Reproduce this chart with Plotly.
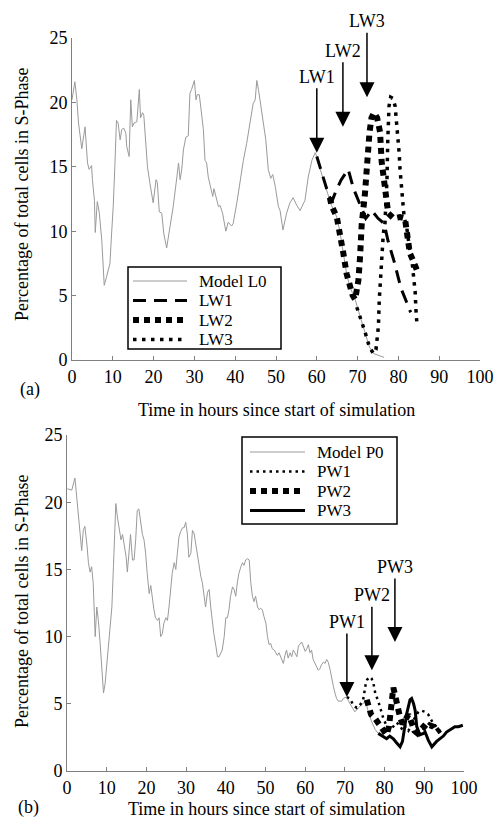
import plotly.graph_objects as go

# ---------------- data ----------------
X_TICKS = [0, 10, 20, 30, 40, 50, 60, 70, 80, 90, 100]
Y_TICKS = [0, 5, 10, 15, 20, 25]

# panel (a)
L0_t = [0, 0.7, 1.2, 1.6, 2.4, 3.2, 3.8, 4.2, 4.8, 5.0, 5.5, 5.7, 6.2, 6.7, 7.3, 7.9, 8.5, 9.3, 9.7, 10.1,
        10.5, 10.9, 11.3, 11.8, 12.2, 12.7, 13.2, 13.4, 14.0, 14.4, 14.8, 15.2, 15.9, 16.1, 16.5, 16.8, 17.3, 17.6, 18.1, 18.5,
        19.1, 19.9, 20.6, 20.9, 21.4, 22.0, 22.5, 23.2, 24.0, 24.8, 25.7, 26.1, 26.5, 26.9, 27.3, 27.9, 28.5, 28.9, 29.3, 30.0,
        30.4, 30.7, 31.2, 31.8, 32.2, 32.6, 33.0, 33.4, 34.0, 34.5, 34.8, 35.5, 35.9, 36.3, 36.9, 37.7, 38.3, 39.1, 39.5, 40.4,
        41.2, 42.0, 42.8, 43.6, 44.4, 44.9, 45.3, 45.7, 46.5, 47.1, 47.5, 48.1, 48.7, 49.2, 49.8, 50.6, 51.0, 51.7, 52.6, 53.4,
        54.2, 55.1, 55.9, 57.1, 57.9, 58.8, 59.6, 60.0, 60.3, 61.6, 62.4, 63.6, 64.9, 65.7, 66.5, 67.3, 68.1, 69.4, 70.6, 71.8,
        72.9, 73.9, 75.5, 76.5]
L0_y = [20.2, 21.6, 20.2, 18.4, 16.4, 18.1, 15.3, 14.8, 15.1, 14.0, 12.4, 9.9, 12.3, 11.4, 9.3, 5.8, 6.5, 7.5, 9.8, 11.9,
        15.0, 18.6, 18.4, 17.1, 17.9, 18.0, 17.6, 16.6, 15.8, 20.2, 18.1, 18.4, 18.5, 19.2, 21.0, 18.8, 19.2, 19.0, 17.1, 15.0,
        13.7, 12.2, 14.0, 13.8, 11.5, 11.4, 9.8, 8.7, 10.3, 11.9, 14.2, 15.3, 14.0, 14.8, 16.3, 17.3, 17.4, 20.7, 21.0, 21.7,
        20.2, 20.6, 20.6, 18.9, 17.9, 15.5, 15.3, 14.2, 13.5, 12.7, 13.3, 12.4, 11.9, 12.0, 11.4, 10.0, 10.7, 10.4, 10.6, 12.2,
        14.0, 15.5, 16.8, 18.2, 19.9, 20.2, 21.7, 21.0, 19.2, 17.6, 17.1, 14.8, 14.1, 14.4, 13.5, 11.9, 11.6, 10.1, 11.4, 12.2,
        12.6, 12.0, 11.6, 12.4, 14.2, 15.5, 16.1, 15.8, 15.4, 14.0, 13.2, 12.0, 11.1, 9.9, 8.3, 6.7, 5.7, 4.7, 3.4, 2.2,
        1.0, 0.5, 0.3, 0.2]

LW1_t = [60.0, 61.5, 63.0, 63.8, 64.8, 66.0, 67.7, 69.0, 70.5, 72.0, 73.5, 75.0, 76.5, 77.5, 79.0, 80.6, 82.0, 83.0]
LW1_y = [15.8, 14.2, 12.7, 12.4, 13.2, 14.0, 14.8, 13.3, 12.2, 11.0, 11.6, 11.0, 10.6, 9.2, 7.6, 5.6, 4.5, 3.7]

LW2_t = [63.2, 63.6, 64.9, 65.7, 66.5, 67.3, 68.1, 68.8, 69.4, 70.2, 70.6, 71.0, 71.8, 72.2, 72.9, 73.4, 74.0, 74.8,
         75.5, 75.9, 76.5, 77.0, 77.5, 78.8, 80.4, 81.6, 82.0, 82.8, 83.5, 84.5]
LW2_y = [12.6, 12.0, 11.1, 9.9, 8.3, 6.7, 5.7, 5.0, 4.7, 6.2, 8.0, 10.5, 12.9, 15.3, 17.6, 18.8, 19.2, 18.8,
         17.7, 15.4, 13.5, 12.2, 11.4, 11.0, 11.1, 11.0, 9.8, 8.3, 7.8, 7.0]

LW3_t = [69.8, 70.6, 71.8, 72.9, 73.9, 74.5, 74.8, 75.1, 75.3, 75.5, 75.6, 75.9, 76.1, 76.3, 76.7, 77.0, 77.2, 77.4,
         77.5, 77.7, 78.1, 78.7, 79.2, 79.6, 80.0, 80.2, 80.4, 80.8, 81.0, 81.4, 82.0, 82.4, 82.8, 83.3, 83.7, 84.1,
         84.3, 84.5]
LW3_y = [4.1, 3.4, 2.2, 1.0, 0.5, 0.8, 1.7, 2.6, 4.6, 5.7, 6.7, 7.8, 8.8, 9.8, 10.6, 12.2, 14.0, 17.1,
         18.4, 19.7, 20.4, 20.3, 19.7, 18.4, 17.3, 16.0, 14.8, 13.5, 12.4, 11.1, 10.4, 9.3, 8.5, 7.8, 6.7, 5.3,
         3.9, 3.0]

# arrow markers (a): label, time, height of arrow tip
A_LABELS = ["LW1", "LW2", "LW3"]
A_TIMES = [60.0, 66.4, 72.3]
A_TIPS = [16.1, 18.1, 20.4]

# panel (b)
P0_t = [0.1, 1.2, 2.0, 2.4, 2.9, 3.3, 3.7, 4.1, 4.5, 5.0, 5.4, 5.8, 6.2, 6.6, 7.1, 7.5, 7.9, 8.3, 8.7, 9.2,
        9.6, 10.0, 10.4, 10.8, 11.3, 11.7, 12.1, 12.3, 12.7, 13.2, 13.6, 14.0, 14.4, 14.9, 15.2, 15.6, 16.0, 16.5, 16.9, 17.3,
        17.7, 18.1, 18.6, 19.0, 19.4, 19.8, 20.2, 20.7, 21.1, 21.5, 21.9, 22.3, 22.8, 23.2, 23.6, 24.0, 24.4, 24.9, 25.3, 25.7,
        26.1, 26.5, 27.0, 27.4, 27.8, 28.2, 28.6, 29.1, 29.5, 29.9, 30.3, 30.7, 31.2, 31.6, 32.0, 32.4, 32.8, 33.3, 33.7, 34.1,
        34.5, 34.9, 35.4, 35.8, 36.2, 36.6, 37.0, 37.5, 37.9, 38.3, 38.7, 39.1, 39.6, 40.0, 40.4, 40.8, 41.2, 41.7, 42.1, 42.5,
        42.9, 43.3, 43.8, 44.2, 44.6, 45.0, 45.4, 45.9, 46.3, 46.7, 47.1, 47.5, 48.0, 48.4, 48.8, 49.2, 49.6, 50.1, 50.5, 50.9,
        51.3, 51.7, 52.2, 52.6, 53.0, 53.4, 54.5, 54.9, 55.3, 55.7, 56.2, 56.6, 57.0, 57.4, 57.9, 58.3, 58.7, 59.1, 59.5, 60.0,
        60.4, 60.8, 61.2, 61.6, 62.0, 62.5, 62.9, 63.3, 63.7, 64.1, 64.6, 65.0, 65.4, 65.8, 66.3, 66.7, 67.1, 67.5, 67.9, 68.3,
        69.2, 69.6, 70.4, 71.3, 72.5, 73.4, 74.6, 75.2, 75.9, 76.7, 77.6, 78.4]
P0_y = [21.0, 20.9, 21.8, 20.4, 18.7, 17.7, 16.4, 17.9, 18.2, 16.9, 15.5, 14.8, 15.2, 14.0, 10.0, 12.2, 11.2, 9.7, 7.8, 5.8,
        6.5, 7.8, 8.8, 10.2, 12.2, 15.2, 17.9, 19.9, 18.9, 17.9, 17.2, 17.6, 16.9, 15.9, 14.8, 16.4, 17.6, 15.7, 15.7, 17.2,
        19.4, 19.5, 18.2, 17.6, 17.2, 16.2, 14.7, 13.2, 13.8, 12.7, 12.0, 11.4, 11.2, 11.4, 10.0, 10.2, 11.0, 11.4, 11.2, 12.2,
        13.7, 14.7, 15.5, 15.0, 16.2, 17.4, 17.8, 18.1, 18.1, 18.5, 17.7, 15.9, 16.2, 17.9, 17.7, 16.9, 16.2, 15.3, 14.5, 14.0,
        13.0, 12.2, 13.3, 13.5, 12.2, 11.0, 10.2, 9.3, 8.5, 8.5, 8.8, 9.0, 10.0, 11.4, 11.4, 12.0, 13.0, 13.7, 13.5, 13.0,
        14.0, 14.7, 15.2, 15.5, 15.3, 15.7, 15.8, 15.7, 14.0, 13.0, 12.6, 13.0, 12.2, 12.0, 12.1, 12.0, 11.5, 11.0, 10.0, 9.4,
        9.5, 9.1, 9.0, 8.8, 8.6, 8.8, 8.0, 8.6, 9.0, 8.4, 8.8, 8.5, 9.0, 8.8, 8.5, 9.3, 9.5, 9.6, 9.3, 8.9,
        9.1, 9.4, 8.8, 9.0, 8.3, 8.0, 7.8, 7.5, 7.6, 7.9, 8.1, 8.0, 8.3, 8.1, 7.5, 6.8, 6.3, 5.8, 5.4, 5.2,
        5.2, 5.4, 5.5, 5.0, 4.4, 4.7, 5.0, 5.2, 4.4, 3.7, 3.1, 2.8]

PW1_t = [70.5, 71.3, 72.1, 73.0, 73.8, 74.6, 75.2, 75.6, 76.3, 76.7, 77.2, 77.7, 78.3, 79.1, 79.7, 80.3, 80.9, 81.6,
         82.2, 83.0, 83.8, 84.6, 85.3, 86.0, 86.8, 87.5, 88.5, 89.2, 90.2, 91.0, 91.4, 92.3, 93.5, 94.4]
PW1_y = [5.5, 5.4, 4.9, 4.7, 4.9, 5.3, 6.4, 6.8, 7.0, 6.9, 6.5, 5.7, 5.3, 4.4, 3.9, 3.5, 3.2, 3.1,
         3.3, 3.6, 3.4, 3.0, 3.3, 3.0, 3.4, 3.9, 4.4, 4.5, 4.4, 4.2, 4.0, 3.5, 3.2, 2.7]

PW2_t = [75.5, 76.6, 77.6, 78.6, 79.7, 80.5, 81.1, 81.5, 81.8, 82.2, 82.6, 83.0, 83.5, 83.9, 84.5, 85.2, 86.0, 86.8,
         87.5, 88.3, 89.0, 89.8, 90.6, 91.4, 92.3, 93.1, 94.0]
PW2_y = [5.3, 4.2, 3.9, 3.5, 2.9, 2.7, 3.3, 4.2, 4.9, 6.2, 5.7, 5.3, 4.5, 4.0, 3.5, 3.8, 4.2, 3.6,
         3.0, 2.8, 3.1, 3.3, 3.1, 3.4, 3.3, 2.9, 3.1]

PW3_t = [78.4, 79.6, 80.5, 81.3, 82.2, 83.0, 83.9, 84.5, 85.1, 85.6, 86.4, 86.8, 87.3, 87.7, 88.1, 88.9, 89.8, 90.2,
         91.0, 91.9, 93.1, 94.0, 94.8, 95.6, 96.5, 97.7, 98.6, 99.7]
PW3_y = [2.8, 2.6, 2.4, 2.6, 2.4, 2.1, 1.8, 2.2, 3.2, 4.3, 5.3, 5.4, 5.0, 4.5, 3.3, 2.7, 2.8, 2.9,
         2.3, 1.8, 2.2, 2.4, 2.6, 2.9, 3.1, 3.3, 3.3, 3.4]

B_LABELS = ["PW1", "PW2", "PW3"]
B_TIMES = [70.5, 76.8, 82.6]
B_TIPS = [5.5, 7.5, 9.6]

YTITLE = "Percentage of total cells in S-Phase"
XTITLE = "Time in hours since start of simulation"

# ---------------- figure ----------------
W, H = 502, 829
SERIF = "Liberation Serif"
GRAY = "#9a9a9a"

# line style of each series: (colour, width, dash)
STYLE = {
    "Model L0": (GRAY, 1, "solid"),
    "LW1": ("black", 3, "13px,8px"),
    "LW2": ("black", 6, "6px,5px"),
    "LW3": ("black", 3.5, "3.5px,5.5px"),
    "Model P0": (GRAY, 1, "solid"),
    "PW1": ("black", 2.5, "2.5px,4px"),
    "PW2": ("black", 6, "6px,5px"),
    "PW3": ("black", 3, "solid"),
}

TOP_SERIES = [("Model L0", L0_t, L0_y), ("LW1", LW1_t, LW1_y), ("LW2", LW2_t, LW2_y), ("LW3", LW3_t, LW3_y)]
BOT_SERIES = [("Model P0", P0_t, P0_y), ("PW1", PW1_t, PW1_y), ("PW2", PW2_t, PW2_y), ("PW3", PW3_t, PW3_y)]

fig = go.Figure()
for series, xa, ya in [(TOP_SERIES, "x", "y"), (BOT_SERIES, "x2", "y2")]:
    for name, t, y in series:
        c, w, d = STYLE[name]
        fig.add_trace(go.Scatter(x=t, y=y, name=name, mode="lines", xaxis=xa, yaxis=ya,
                                 showlegend=False, line=dict(color=c, width=w, dash=d)))

axis_style = dict(showline=True, linecolor="#808080", linewidth=1, ticks="inside", ticklen=4,
                  tickcolor="#808080", showgrid=False, zeroline=False, mirror=False, automargin=False,
                  tickfont=dict(family=SERIF, size=18, color="black"))

fig.update_layout(
    template="none",
    width=W, height=H, margin=dict(l=0, r=0, t=0, b=0, pad=0),
    paper_bgcolor="white", plot_bgcolor="white", showlegend=False,
    font=dict(family=SERIF, size=18, color="black"),
    xaxis=dict(domain=[72 / W, 480 / W], range=[0, 100], tickvals=X_TICKS, anchor="y", **axis_style),
    yaxis=dict(domain=[1 - 360 / H, 1 - 38 / H], range=[0, 25], tickvals=Y_TICKS, anchor="x", **axis_style),
    xaxis2=dict(domain=[67 / W, 464 / W], range=[0, 100], tickvals=X_TICKS, anchor="y2", **axis_style),
    yaxis2=dict(domain=[1 - 771 / H, 1 - 435 / H], range=[0, 25], tickvals=Y_TICKS, anchor="x2", **axis_style),
)

def text_ann(x, y, text, angle=0, size=18, xanchor="center"):
    return dict(x=x / W, y=1 - y / H, xref="paper", yref="paper", text=text, textangle=angle,
                xanchor=xanchor, yanchor="middle", showarrow=False,
                font=dict(family=SERIF, size=size, color="black"))

ann = []
for lab, t, tip in zip(A_LABELS, A_TIMES, A_TIPS):
    ann.append(dict(x=t, y=tip, xref="x", yref="y", text=lab, showarrow=True, ax=0, ay=-76,
                    arrowhead=2, arrowsize=2, arrowwidth=1.5, arrowcolor="black", standoff=0,
                    font=dict(family=SERIF, size=18, color="black")))
for lab, t, tip in zip(B_LABELS, B_TIMES, B_TIPS):
    ann.append(dict(x=t, y=tip, xref="x2", yref="y2", text=lab, showarrow=True, ax=0, ay=-75,
                    arrowhead=2, arrowsize=2, arrowwidth=1.5, arrowcolor="black", standoff=0,
                    font=dict(family=SERIF, size=18, color="black")))

ann += [
    text_ann(22, 195, YTITLE, -90),
    text_ann(22, 602, YTITLE, -90),
    text_ann(276, 410, XTITLE),
    text_ann(266, 809, XTITLE),
    text_ann(30, 389, "(a)"),
    text_ann(28, 807, "(b)"),
]

# legend boxes (drawn as a framed key, one row per series)
shapes = []
LEGENDS = [
    # (series, box x0, x1, y0, y1, sample x0, x1, text x, first row y, row step)
    (TOP_SERIES, 128, 281, 267, 349, 133, 187, 197, 281, 19.5),
    (BOT_SERIES, 242, 397, 437, 524, 250, 305, 315, 452, 19.5),
]
for series, bx0, bx1, by0, by1, sx0, sx1, tx, ry, step in LEGENDS:
    shapes.append(dict(type="rect", xref="paper", yref="paper", x0=bx0 / W, x1=bx1 / W,
                       y0=1 - by1 / H, y1=1 - by0 / H, line=dict(color="black", width=1.5),
                       fillcolor="white", layer="above"))
    for i, (name, _, _) in enumerate(series):
        c, w, d = STYLE[name]
        yy = 1 - (ry + i * step) / H
        shapes.append(dict(type="line", xref="paper", yref="paper", x0=sx0 / W, x1=sx1 / W,
                           y0=yy, y1=yy, line=dict(color=c, width=w, dash=d), layer="above"))
        ann.append(text_ann(tx, ry + i * step, name, size=17, xanchor="left"))

fig.update_layout(annotations=ann, shapes=shapes)

# the page's default body margin would push the figure 8px down and right
fig.write_html("out.html", config={"displayModeBar": False},
               post_script="document.body.style.margin='0px';")
